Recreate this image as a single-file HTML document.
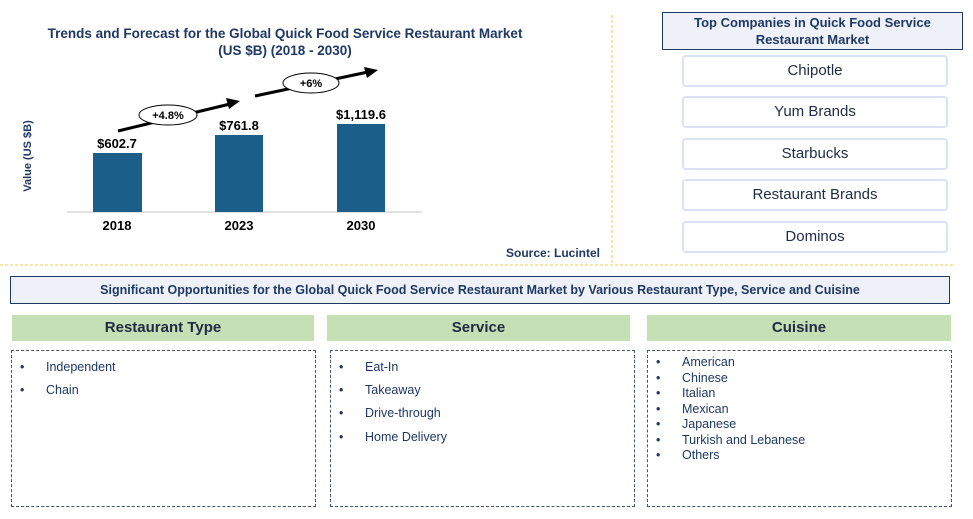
<!DOCTYPE html>
<html><head><meta charset="utf-8"><style>
body{margin:0;width:973px;height:519px;background:#fff;font-family:"Liberation Sans",Arial,sans-serif;position:relative;overflow:hidden}
.a{position:absolute}
.t{color:#1f3864;font-weight:bold}
.co{position:absolute;left:682px;width:262px;height:28px;border:2px solid #dae3f3;border-radius:4px;text-align:center;line-height:28px;font-size:15px;color:#1f2a44}
.gh{position:absolute;top:315px;height:26px;background:#c5e0b4;text-align:center;line-height:26px;font-size:15px;font-weight:bold;color:#1f2a44}
.db{position:absolute;top:350px;height:157px;border:1px dashed #44546a;box-sizing:border-box}
.li{position:absolute;font-size:12.5px;color:#1f3864}
.li b{position:absolute;left:-26px;font-weight:normal}
</style></head><body>
<div class="a t" style="left:20px;top:25px;width:530px;text-align:center;font-size:13.5px;line-height:17px">Trends and Forecast for the Global Quick Food Service Restaurant Market<br>(US $B) (2018 - 2030)</div>
<div class="a t" style="left:-12px;top:150px;transform:rotate(-90deg);font-size:11px;transform-origin:center;width:80px;text-align:center">Value (US $B)</div>
<svg class="a" style="left:0;top:0" width="973" height="519">
<line x1="612" y1="15" x2="612" y2="265" stroke="#f2c94c" stroke-dasharray="3,2"/>
<line x1="0" y1="265" x2="955" y2="265" stroke="#f2c94c" stroke-dasharray="3,2"/>
<line x1="67" y1="212" x2="422" y2="212" stroke="#d9d9d9" stroke-width="1.5"/>
<rect x="93" y="153" width="49" height="59" fill="#1b5e8a"/>
<rect x="215" y="135" width="48" height="77" fill="#1b5e8a"/>
<rect x="337" y="124" width="48" height="88" fill="#1b5e8a"/>
<line x1="118" y1="131" x2="230" y2="104" stroke="#000" stroke-width="3"/>
<polygon points="240,101 226,98 229,109" fill="#000"/>
<line x1="255" y1="96" x2="368" y2="72" stroke="#000" stroke-width="3"/>
<polygon points="378,70 364,67 367,78" fill="#000"/>
<ellipse cx="168" cy="115" rx="29" ry="10" fill="#fff" stroke="#000"/>
<ellipse cx="311" cy="83" rx="28" ry="10" fill="#fff" stroke="#000"/>
<g font-family="Liberation Sans,Arial,sans-serif" font-weight="bold" text-anchor="middle" fill="#000">
<text x="168" y="119" font-size="11">+4.8%</text>
<text x="311" y="87" font-size="11">+6%</text>
<text x="117" y="148" font-size="13">$602.7</text>
<text x="239" y="130" font-size="13">$761.8</text>
<text x="361" y="119" font-size="13">$1,119.6</text>
<text x="117" y="230" font-size="13">2018</text>
<text x="239" y="230" font-size="13">2023</text>
<text x="361" y="230" font-size="13">2030</text>
</g>
<text x="600" y="257" text-anchor="end" font-size="12" font-weight="bold" fill="#1f3864" font-family="Liberation Sans,Arial,sans-serif">Source: Lucintel</text>
</svg>
<div class="a t" style="left:662px;top:12px;width:299px;height:35px;border:1px solid #1f3864;background:#eef2f8;text-align:center;font-size:13px;line-height:17px;padding-top:1px">Top Companies in Quick Food Service<br>Restaurant Market</div>
<div class="co" style="top:55px">Chipotle</div>
<div class="co" style="top:96px">Yum Brands</div>
<div class="co" style="top:138px">Starbucks</div>
<div class="co" style="top:179px">Restaurant Brands</div>
<div class="co" style="top:221px">Dominos</div>
<div class="a t" style="left:10px;top:276px;width:938px;height:26px;border:1px solid #1f3864;background:#eef2f8;text-align:center;line-height:26px;font-size:12.5px">Significant Opportunities for the Global Quick Food Service Restaurant Market by Various Restaurant Type, Service and Cuisine</div>
<div class="gh" style="left:12px;width:302px">Restaurant Type</div>
<div class="gh" style="left:327px;width:303px">Service</div>
<div class="gh" style="left:647px;width:304px">Cuisine</div>
<div class="db" style="left:11px;width:305px"></div>
<div class="db" style="left:330px;width:305px"></div>
<div class="db" style="left:647px;width:305px"></div>
<div class="li" style="left:46px;top:360px"><b>•</b>Independent</div>
<div class="li" style="left:46px;top:383px"><b>•</b>Chain</div>
<div class="li" style="left:365px;top:360px"><b>•</b>Eat-In</div>
<div class="li" style="left:365px;top:383px"><b>•</b>Takeaway</div>
<div class="li" style="left:365px;top:406px"><b>•</b>Drive-through</div>
<div class="li" style="left:365px;top:430px"><b>•</b>Home Delivery</div>
<div class="li" style="left:682px;top:355px"><b>•</b>American</div>
<div class="li" style="left:682px;top:371px"><b>•</b>Chinese</div>
<div class="li" style="left:682px;top:386px"><b>•</b>Italian</div>
<div class="li" style="left:682px;top:402px"><b>•</b>Mexican</div>
<div class="li" style="left:682px;top:417px"><b>•</b>Japanese</div>
<div class="li" style="left:682px;top:433px"><b>•</b>Turkish and Lebanese</div>
<div class="li" style="left:682px;top:448px"><b>•</b>Others</div>
</body></html>
